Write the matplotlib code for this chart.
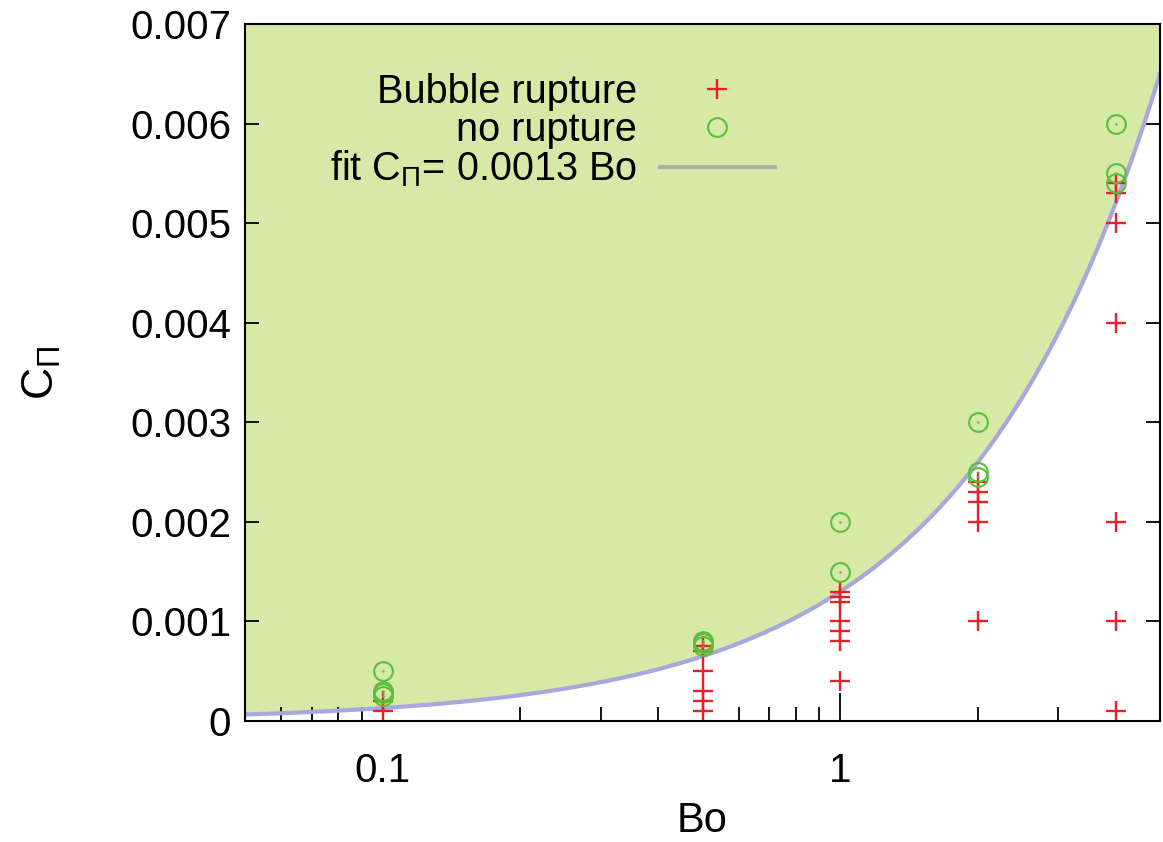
import numpy as np
import matplotlib.pyplot as plt
from matplotlib.lines import Line2D

plt.rcParams['font.family'] = ['Liberation Sans', 'DejaVu Sans']
plt.rcParams['mathtext.fontset'] = 'custom'
plt.rcParams['mathtext.rm'] = 'Liberation Sans'
plt.rcParams['mathtext.it'] = 'Liberation Sans'

# measured runs: Bond number and pressure coefficient
bo_rupture = [0.1, 0.1,
              0.5, 0.5, 0.5, 0.5, 0.5, 0.5,
              1, 1, 1, 1, 1, 1, 1,
              2, 2, 2, 2, 2,
              4, 4, 4, 4, 4, 4, 4]
c_rupture = [0.0002, 0.0001,
             0.00075, 0.0007, 0.0005, 0.0003, 0.0002, 0.0001,
             0.0013, 0.00125, 0.0012, 0.001, 0.0009, 0.0008, 0.0004,
             0.0024, 0.0023, 0.0022, 0.002, 0.001,
             0.0054, 0.0053, 0.005, 0.004, 0.002, 0.001, 0.0001]

bo_intact = [0.1, 0.1, 0.1, 0.1,
             0.5, 0.5, 0.5,
             1, 1,
             2, 2, 2,
             4, 4, 4]
c_intact = [0.0005, 0.0003, 0.00028, 0.00025,
            0.0008, 0.00078, 0.00075,
            0.002, 0.0015,
            0.003, 0.0025, 0.00245,
            0.006, 0.0055, 0.0054]

fit_coef = 0.0013
bo_min, bo_max = 0.05, 5.0
c_max = 0.007

fig = plt.figure(figsize=(11.63, 8.42), dpi=100)
ax = fig.add_axes([0.2107, 0.1437, 0.7867, 0.8278])

bo = np.logspace(np.log10(bo_min), np.log10(bo_max), 400)
fit = fit_coef * bo
ax.fill_between(bo, fit, c_max, color='#d6e9a6', lw=0, zorder=1)
ax.plot(bo, fit, color='#a9a7e0', lw=3, zorder=2)

ax.plot(bo_rupture, c_rupture, ls='none', marker='+', ms=15, mew=1.7,
        color='#e8202a', zorder=3)
ax.plot(bo_intact, c_intact, ls='none', marker='o', ms=13.5, mew=1.5,
        mfc='none', mec='#5cbf3a', zorder=4)
ax.plot(bo_intact, c_intact, ls='none', marker='.', ms=1.5,
        color='#5cbf3a', zorder=4)

ax.set_xscale('log')
ax.set_xlim(bo_min, bo_max)
ax.set_ylim(0, c_max)
ax.set_xticks([0.1, 1])
ax.set_xticklabels(['0.1', '1'])
ax.set_yticks(np.arange(0, 0.0071, 0.001))
ax.set_yticklabels(['0', '0.001', '0.002', '0.003', '0.004', '0.005', '0.006', '0.007'])
ax.tick_params(axis='both', which='both', direction='in', labelsize=29,
               top=False, right=True, width=1.3)
ax.tick_params(axis='x', which='major', length=20, pad=22)
ax.tick_params(axis='x', which='minor', length=10)
ax.tick_params(axis='y', which='major', length=10, pad=10)
for sp in ax.spines.values():
    sp.set_linewidth(1.5)
    sp.set_zorder(5)

ax.set_xlabel('Bo', fontsize=30, labelpad=8)
ax.set_ylabel(r'C$_{\Pi}$', fontsize=32, labelpad=48)

handles = [
    Line2D([], [], ls='none', marker='+', ms=15, mew=1.7, color='#e8202a'),
    Line2D([], [], ls='none', marker='o', ms=13.5, mew=1.5, mfc='none', mec='#5cbf3a'),
    Line2D([], [], color='#a9b3a8', lw=3),
]
labels = ['Bubble rupture', 'no rupture', r'fit C$_{\Pi}$= 0.0013 Bo']
ax.legend(handles, labels, loc='upper right', bbox_to_anchor=(0.579, 0.93),
          frameon=False, markerfirst=False, fontsize=28.5, handlelength=2.9,
          handletextpad=0.58, labelspacing=0.0, borderaxespad=0, borderpad=0)

fig.savefig('out.png', dpi=100)
